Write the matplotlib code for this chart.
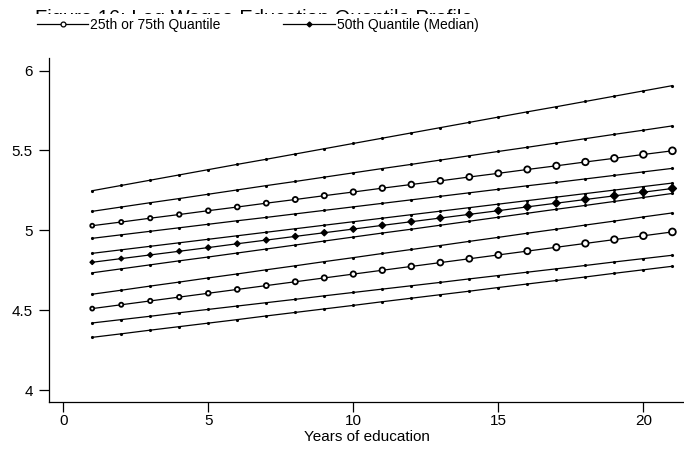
import numpy as np
import matplotlib.pyplot as plt
from matplotlib.lines import Line2D
from matplotlib.patches import Rectangle

plt.rcParams['font.family'] = ['Liberation Sans', 'DejaVu Sans']

years = np.arange(1, 22)

# plain lines (top to bottom)
band_top = [5.248, 5.281, 5.314, 5.347, 5.380, 5.413, 5.445, 5.478, 5.511, 5.544, 5.577,
            5.610, 5.643, 5.676, 5.709, 5.742, 5.774, 5.807, 5.840, 5.873, 5.906]
q75_hi = [5.119, 5.146, 5.173, 5.199, 5.226, 5.253, 5.280, 5.306, 5.333, 5.360, 5.387,
          5.413, 5.440, 5.467, 5.494, 5.520, 5.547, 5.574, 5.601, 5.627, 5.654]
q75_lo = [4.950, 4.972, 4.994, 5.016, 5.038, 5.060, 5.081, 5.103, 5.125, 5.147, 5.169,
          5.191, 5.213, 5.235, 5.257, 5.279, 5.300, 5.322, 5.344, 5.366, 5.388]
q50_hi = [4.856, 4.878, 4.900, 4.922, 4.944, 4.966, 4.988, 5.010, 5.032, 5.054, 5.076,
          5.098, 5.120, 5.142, 5.164, 5.186, 5.208, 5.230, 5.252, 5.274, 5.296]
q50_lo = [4.734, 4.759, 4.784, 4.809, 4.833, 4.858, 4.883, 4.908, 4.933, 4.958, 4.983,
          5.007, 5.032, 5.057, 5.082, 5.107, 5.132, 5.156, 5.181, 5.206, 5.231]
q25_hi = [4.600, 4.625, 4.651, 4.676, 4.702, 4.727, 4.753, 4.778, 4.804, 4.829, 4.855,
          4.880, 4.905, 4.931, 4.956, 4.982, 5.007, 5.033, 5.058, 5.084, 5.109]
q25_lo = [4.420, 4.441, 4.462, 4.484, 4.505, 4.526, 4.547, 4.568, 4.590, 4.611, 4.632,
          4.653, 4.674, 4.696, 4.717, 4.738, 4.759, 4.780, 4.802, 4.823, 4.844]
band_bot = [4.330, 4.352, 4.375, 4.397, 4.419, 4.441, 4.464, 4.486, 4.508, 4.530, 4.553,
            4.575, 4.597, 4.619, 4.642, 4.664, 4.686, 4.708, 4.731, 4.753, 4.775]

# quantile lines with markers
q75 = [5.029, 5.052, 5.076, 5.099, 5.123, 5.146, 5.170, 5.193, 5.217, 5.240, 5.264,
       5.287, 5.310, 5.334, 5.357, 5.381, 5.404, 5.428, 5.451, 5.475, 5.498]
q50 = [4.800, 4.823, 4.846, 4.869, 4.892, 4.916, 4.939, 4.962, 4.985, 5.008, 5.031,
       5.054, 5.077, 5.100, 5.123, 5.147, 5.170, 5.193, 5.216, 5.239, 5.262]
q25 = [4.510, 4.534, 4.558, 4.582, 4.606, 4.630, 4.654, 4.678, 4.702, 4.726, 4.750,
       4.774, 4.798, 4.822, 4.846, 4.870, 4.894, 4.918, 4.942, 4.966, 4.990]

plain = [band_top, q75_hi, q75_lo, q50_hi, q50_lo, q25_hi, q25_lo, band_bot]

fig = plt.figure(figsize=(6.84, 4.51), dpi=100)
ax = fig.add_axes([49.3 / 684, 1 - 401.7 / 451, 1 - 49.3 / 684, (401.7 - 58) / 451])

for ys in plain:
    ax.plot(years, ys, color='black', lw=0.9, marker='.', markersize=2.5)

sizes = np.linspace(8, 24, len(years))
for ys in (q75, q25):
    ax.plot(years, ys, color='black', lw=0.9)
    ax.scatter(years, ys, s=sizes, marker='o', facecolor='white',
               edgecolor='black', linewidths=1.3, zorder=3)
ax.plot(years, q50, color='black', lw=0.9)
ax.scatter(years, q50, s=np.linspace(5, 17, len(years)), marker='D',
           color='black', zorder=3)

ax.set_xlim(-0.48, 21.4)
ax.set_ylim(3.927, 6.079)
ax.set_xticks([0, 5, 10, 15, 20])
ax.set_yticks([4, 4.5, 5, 5.5, 6])
ax.set_yticklabels(['4', '4.5', '5', '5.5', '6'])
ax.tick_params(axis='both', labelsize=11, length=7, width=0.9, color='black')
ax.tick_params(axis='y', pad=5)
ax.tick_params(axis='x', pad=2)
ax.set_xlabel('Years of education', fontsize=11, labelpad=1)
for s in ['top', 'right']:
    ax.spines[s].set_visible(False)
for s in ['left', 'bottom']:
    ax.spines[s].set_linewidth(0.9)

# title, partly hidden behind the legend box as in the original
fig.text(35 / 684, 1 - 23.5 / 451, 'Figure 16: Log Wages-Education Quantile Profile',
         fontsize=14.5, va='baseline', ha='left', zorder=1)
fig.patches.append(Rectangle((28 / 684, 1 - 40 / 451), 452 / 684, 26.5 / 451,
                             transform=fig.transFigure, facecolor='white',
                             edgecolor='none', zorder=2))

handles = [Line2D([], [], color='black', lw=0.9, marker='o', markersize=3.5,
                  markerfacecolor='white', markeredgewidth=0.9),
           Line2D([], [], color='black', lw=0.9, marker='D', markersize=2.5)]
fig.legend(handles, ['25th or 75th Quantile', '50th Quantile (Median)'],
           loc='center left', bbox_to_anchor=(37 / 684, 1 - 25 / 451), ncol=2,
           frameon=False, fontsize=10, borderpad=0, borderaxespad=0,
           handlelength=3.7, handletextpad=0.15, columnspacing=4.5)

fig.savefig('out.png', dpi=100)
